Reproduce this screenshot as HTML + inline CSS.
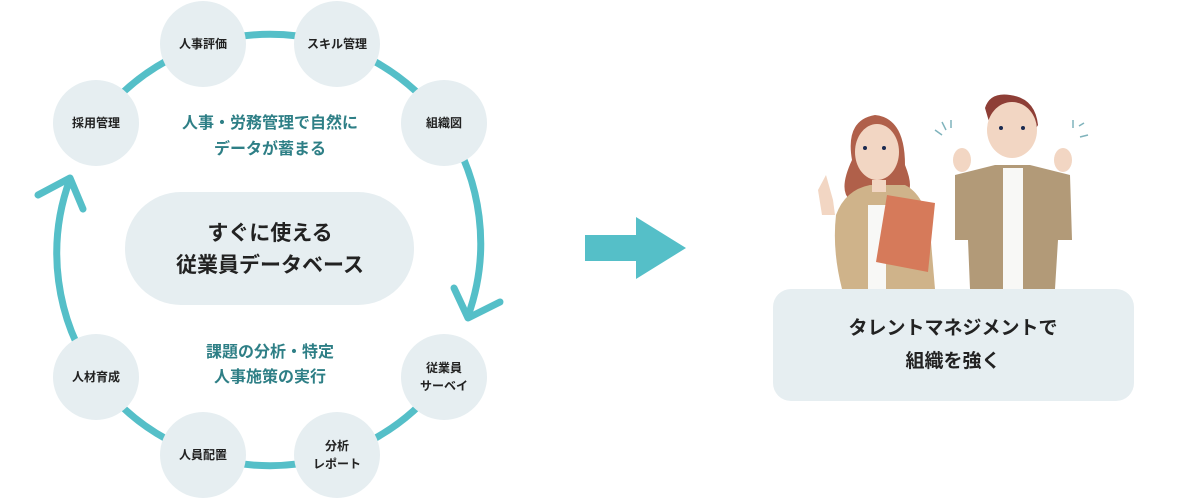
<!DOCTYPE html>
<html><head><meta charset="utf-8"><style>
html,body{margin:0;padding:0;background:#fff;}
svg{display:block}
text{font-family:"Liberation Sans","Noto Sans CJK JP",sans-serif;}
</style></head><body>
<svg width="1200" height="498" viewBox="0 0 1200 498" xmlns="http://www.w3.org/2000/svg">
<g fill="none" stroke="#55bfc8" stroke-width="7" stroke-linecap="round">
<path d="M96,123 A215 215 0 0 1 444,123"/>
<path d="M444,377 A215 215 0 0 1 96,377"/>
<path d="M96,377 A215 215 0 0 1 70,179"/>
<path d="M444,123 A215 215 0 0 1 468,316"/>
<polyline points="38,195 70,178 83,209" stroke-linejoin="round"/>
<polyline points="454,288 468,318 500,302" stroke-linejoin="round"/>
</g>
<g fill="#e6eef1">
<circle cx="203" cy="44" r="43"/><circle cx="337" cy="44" r="43"/>
<circle cx="444" cy="123" r="43"/><circle cx="96" cy="123" r="43"/>
<circle cx="96" cy="377" r="43"/><circle cx="203" cy="455" r="43"/>
<circle cx="337" cy="455" r="43"/><circle cx="444" cy="377" r="43"/>
<rect x="125" y="192" width="289" height="113" rx="56"/>
<rect x="773" y="289" width="361" height="112" rx="18"/>
</g>
<g font-size="12" font-weight="bold" fill="#222" text-anchor="middle">
<text x="203" y="48">人事評価</text><text x="337" y="48">スキル管理</text>
<text x="444" y="127">組織図</text><text x="96" y="127">採用管理</text>
<text x="96" y="381">人材育成</text><text x="203" y="459">人員配置</text>
<text x="337" y="450">分析</text><text x="337" y="468">レポート</text>
<text x="444" y="372">従業員</text><text x="444" y="390">サーベイ</text>
</g>
<g font-size="16" font-weight="bold" fill="#2e7f86" text-anchor="middle">
<text x="270" y="128">人事・労務管理で自然に</text>
<text x="270" y="154">データが蓄まる</text>
<text x="270" y="357">課題の分析・特定</text>
<text x="270" y="382">人事施策の実行</text>
</g>
<g font-size="21" font-weight="bold" fill="#222" text-anchor="middle">
<text x="270" y="240">すぐに使える</text>
<text x="270" y="272">従業員データベース</text>
</g>
<g font-size="19" font-weight="bold" fill="#222" text-anchor="middle">
<text x="953" y="334">タレントマネジメントで</text>
<text x="953" y="367">組織を強く</text>
</g>
<polygon points="585,235 636,235 636,217 686,248 636,279 636,261 585,261" fill="#55bfc8"/>
<!-- woman -->
<path d="M852,160 Q845,120 875,115 Q905,118 905,165 Q915,190 905,195 L850,200 Q838,190 852,160Z" fill="#b0604a"/>
<path d="M836,215 Q845,190 870,185 L905,185 Q925,195 930,230 L935,289 L842,289 Q832,250 836,215Z" fill="#cfb38a"/>
<rect x="868" y="205" width="18" height="84" fill="#f8f8f6"/>
<rect x="872" y="180" width="14" height="12" fill="#f2d6c3"/>
<ellipse cx="877" cy="152" rx="22" ry="28" fill="#f2d6c3"/>
<circle cx="865" cy="148" r="2" fill="#1a2a50"/><circle cx="884" cy="148" r="2" fill="#1a2a50"/>
<path d="M818,190 L826,175 L833,200 L835,215 L822,215Z" fill="#f2d6c3"/>
<path d="M887,195 L935,203 L928,272 L876,262Z" fill="#d67a5a"/>
<!-- man -->
<path d="M985,108 Q990,92 1010,95 Q1035,98 1038,125 L1035,130 Q1010,112 990,125Z" fill="#8e3e36"/>
<ellipse cx="1012" cy="130" rx="25" ry="28" fill="#f2d6c3"/>
<circle cx="1001" cy="128" r="2" fill="#1a2a50"/><circle cx="1023" cy="128" r="2" fill="#1a2a50"/>
<path d="M955,175 L995,165 L1030,165 L1070,175 L1072,240 L1058,240 L1055,289 L970,289 L968,240 L955,240Z" fill="#b29a78"/>
<rect x="1003" y="168" width="20" height="121" fill="#f8f8f6"/>
<ellipse cx="962" cy="160" rx="9" ry="12" fill="#f2d6c3"/>
<ellipse cx="1063" cy="160" rx="9" ry="12" fill="#f2d6c3"/>
<g stroke="#7fb3bc" stroke-width="1.5"><line x1="935" y1="130" x2="942" y2="135"/><line x1="942" y1="122" x2="946" y2="130"/><line x1="951" y1="120" x2="951" y2="128"/><line x1="1073" y1="120" x2="1073" y2="128"/><line x1="1079" y1="126" x2="1084" y2="123"/><line x1="1080" y1="137" x2="1088" y2="135"/></g>
</svg>
</body></html>
